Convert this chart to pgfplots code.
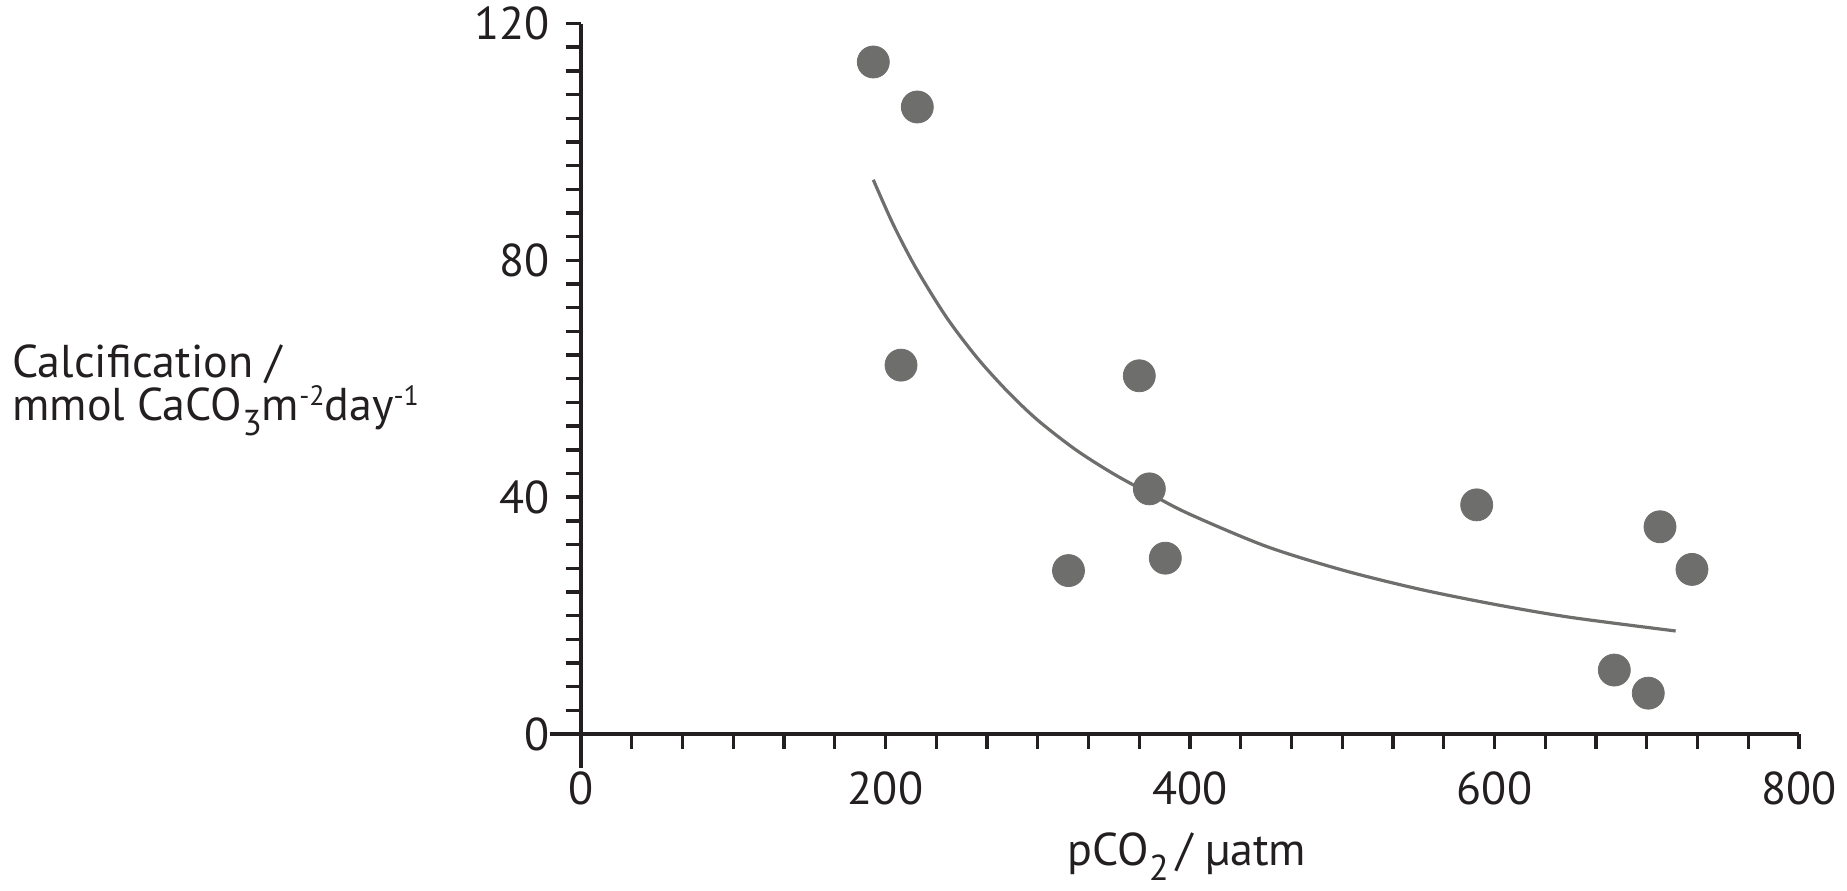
\documentclass[border=0pt]{standalone}
\usepackage{fontspec}
\setmainfont{PT Sans}
\usepackage{pgfplots}
\pgfplotsset{compat=1.18}
\definecolor{axblack}{RGB}{35,31,32}
\definecolor{dotgray}{RGB}{110,110,108}
\newcommand{\lsub}[1]{\raisebox{-7.5pt}{\fontsize{18}{18}\selectfont #1}}
\newcommand{\lsup}[1]{\raisebox{7.5pt}{\fontsize{14}{14}\selectfont #1}}
\begin{document}
\begin{tikzpicture}
\useasboundingbox (-290.5pt,-78pt) rectangle (633pt,367pt);
\begin{axis}[
  at={(0,0)}, anchor=south west,
  width=609pt, height=355.25pt, scale only axis,
  xmin=0, xmax=800, ymin=0, ymax=120,
  axis x line*=bottom, axis y line*=left,
  axis line style={-, line width=2pt, color=axblack},
  every outer x axis line/.append style={-},
  every outer y axis line/.append style={-},
  tick style={line width=1.7pt, color=axblack},
  tick align=outside,
  major tick length=7.5pt, minor tick length=7.5pt,
  xtick={0,200,400,600,800}, minor x tick num=5,
  ytick={0,40,80,120}, minor y tick num=9,
  extra x ticks={0}, extra x tick labels={},
  extra x tick style={major tick length=17pt},
  extra y ticks={0}, extra y tick labels={},
  extra y tick style={major tick length=15.5pt},
  ticklabel style={font=\fontsize{23}{27}\selectfont, text=axblack},
  xticklabel style={yshift=-8pt},
  yticklabel style={xshift=-4.5pt},
  /pgf/number format/assume math mode=true,
  clip=false,
]
\addplot[smooth, color=dotgray, line width=1.6pt] coordinates {
  (192,93.6) (205,86.1) (220,78.7) (240,70.4) (260,63.6) (280,57.9)
  (300,53.0) (325,48.0) (350,43.9) (375,40.4) (400,37.1) (450,31.7)
  (500,27.7) (550,24.5) (600,21.9) (650,19.7) (719,17.4)
};
\addplot[only marks, mark=*, mark size=8pt, color=dotgray,
  mark options={draw=none, fill=dotgray}] coordinates {
  (192.0,113.5) (220.9,105.9) (210.2,62.3) (320.2,27.6)
  (366.7,60.5) (373.3,41.4) (383.8,29.7) (588.3,38.7)
  (708.7,35.0) (729.7,27.8) (678.7,10.8) (701.0,6.9)
};
\end{axis}
\begin{scope}[every node/.style={font=\fontsize{23}{27}\selectfont, text=axblack, inner sep=0pt}]
\node[anchor=base west] at (-284.5pt,178.5pt) {Calcification /};
\node[anchor=base west] at (-284.5pt,157pt) {mmol CaCO\lsub{3}m\lsup{-2}day\lsup{-1}};
\node[anchor=base] at (303pt,-65.5pt) {pCO\lsub{2}\,/ µatm};
\end{scope}
\end{tikzpicture}
\end{document}
